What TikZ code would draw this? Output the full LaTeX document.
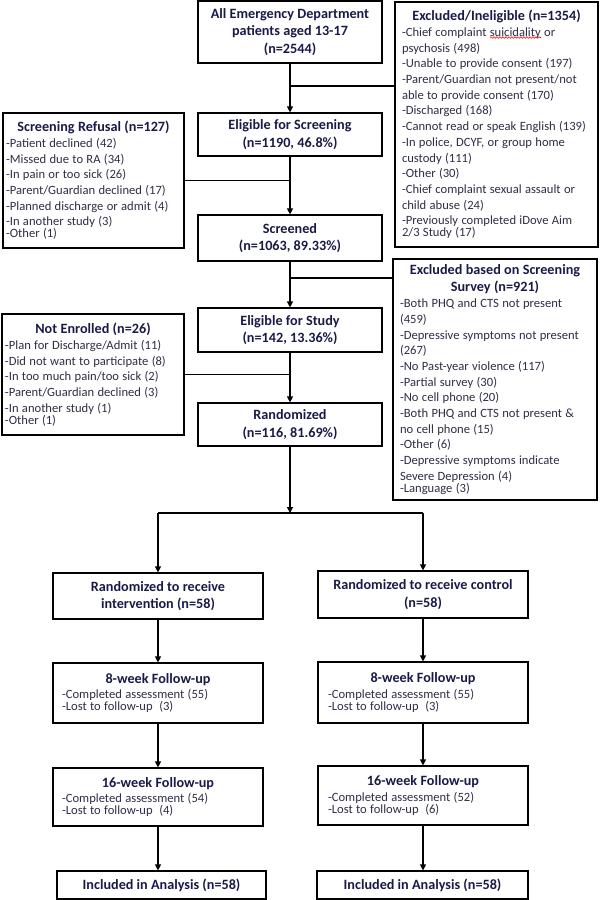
\documentclass[tikz,border=0pt]{standalone}
\usepackage{fontspec}
\setmainfont{Carlito}
\usetikzlibrary{arrows.meta,decorations.pathmorphing}
\definecolor{hd}{HTML}{1A1A4A}
\definecolor{bd}{HTML}{2E2E48}
\newcommand\hf{\fontsize{14.2}{17.5}\selectfont\bfseries}
\newcommand\bdf{\fontsize{12.6}{15.7}\selectfont\color{bd}}
\tikzset{
  box/.style={draw=black, line width=1.2pt, inner sep=0pt, fill=white, text=hd},
  mainbox/.style={box, align=center, font=\hf},
  listbox/.style={box, align=left},
  ln/.style={line width=1.2pt},
  arr/.style={line width=1.2pt, -{Triangle[length=6pt,width=6pt]}}
}
\begin{document}
\begin{tikzpicture}[x=1pt,y=-1pt]
\fill[white] (0,0) rectangle (600,900);
\useasboundingbox (0,0) rectangle (600,900);

% main column
\node[mainbox, minimum width=184pt, minimum height=62pt] (ed) at (290,32)
  {All Emergency Department\\patients aged 13-17\\(n=2544)};
\node[mainbox, minimum width=184pt, minimum height=43pt] (elig) at (290,134.5)
  {Eligible for Screening\\(n=1190, 46.8\%)};
\node[mainbox, minimum width=184pt, minimum height=46pt] (screened) at (290,238)
  {Screened\\(n=1063, 89.33\%)};
\node[mainbox, minimum width=184pt, minimum height=44pt] (eligstudy) at (290,330)
  {Eligible for Study\\(n=142, 13.36\%)};
\node[mainbox, minimum width=184pt, minimum height=43pt] (rand) at (290,424.5)
  {Randomized\\(n=116, 81.69\%)};

% exclusion boxes
\node[listbox, minimum width=203pt, minimum height=245pt, text width=189pt] (excl1) at (496.5,124.5)
  {{\centering\hf Excluded/Ineligible (n=1354)\par}\bdf
  -Chief complaint suicidality or\\
  psychosis (498)\\
  -Unable to provide consent (197)\\
  -Parent/Guardian not present/not\\
  able to provide consent (170)\\
  -Discharged (168)\\
  -Cannot read or speak English (139)\\
  -In police, DCYF, or group home\\
  custody (111)\\
  -Other (30)\\
  -Chief complaint sexual assault or\\
  child abuse (24)\\
  -Previously completed iDove Aim\\
  2/3 Study (17)};

\node[listbox, minimum width=181pt, minimum height=135pt, text width=175pt] (refuse) at (93.5,180.5)
  {{\centering\hf Screening Refusal (n=127)\par}\bdf
  -Patient declined (42)\\
  -Missed due to RA (34)\\
  -In pain or too sick (26)\\
  -Parent/Guardian declined (17)\\
  -Planned discharge or admit (4)\\
  -In another study (3)\\
  -Other (1)};

\node[listbox, minimum width=204pt, minimum height=241pt, text width=190pt] (excl2) at (495,379.5)
  {{\centering\hf Excluded based on Screening\\Survey (n=921)\par}\bdf
  -Both PHQ and CTS not present\\
  (459)\\
  -Depressive symptoms not present\\
  (267)\\
  -No Past-year violence (117)\\
  -Partial survey (30)\\
  -No cell phone (20)\\
  -Both PHQ and CTS not present \&\\
  no cell phone (15)\\
  -Other (6)\\
  -Depressive symptoms indicate\\
  Severe Depression (4)\\
  -Language (3)};

\node[listbox, minimum width=182pt, minimum height=121pt, text width=176pt] (notenr) at (93,374.5)
  {{\centering\hf Not Enrolled (n=26)\par}\bdf
  -Plan for Discharge/Admit (11)\\
  -Did not want to participate (8)\\
  -In too much pain/too sick (2)\\
  -Parent/Guardian declined (3)\\
  -In another study (1)\\
  -Other (1)};

% arms
\node[mainbox, minimum width=210pt, minimum height=46pt] (intv) at (158,596)
  {Randomized to receive\\intervention (n=58)};
\node[mainbox, minimum width=210pt, minimum height=47pt] (ctrl) at (423,594.5)
  {Randomized to receive control\\(n=58)};

\node[listbox, minimum width=210pt, minimum height=60pt, text width=192pt] (fu8L) at (158,693)
  {{\centering\hf 8-week Follow-up\par}\bdf
  -Completed assessment (55)\\
  -Lost to follow-up\ \ (3)};
\node[listbox, minimum width=210pt, minimum height=61pt, text width=190pt] (fu8R) at (423,692.5)
  {{\centering\hf 8-week Follow-up\par}\bdf
  -Completed assessment (55)\\
  -Lost to follow-up\ \ (3)};

\node[listbox, minimum width=210pt, minimum height=58pt, text width=192pt] (fu16L) at (158,797)
  {{\centering\hf 16-week Follow-up\par}\bdf
  -Completed assessment (54)\\
  -Lost to follow-up\ \ (4)};
\node[listbox, minimum width=210pt, minimum height=59pt, text width=190pt] (fu16R) at (423,795.5)
  {{\centering\hf 16-week Follow-up\par}\bdf
  -Completed assessment (52)\\
  -Lost to follow-up\ \ (6)};

\node[mainbox, minimum width=209pt, minimum height=28pt] (incL) at (161.5,885)
  {Included in Analysis (n=58)};
\node[mainbox, minimum width=211pt, minimum height=28pt] (incR) at (422.5,885)
  {Included in Analysis (n=58)};

% spell-check squiggle under "suicidality"
\draw[red, line width=0.6pt, decorate, decoration={snake, segment length=3pt, amplitude=0.8pt}]
  (490,37.5) -- (541,37.5);

% connectors
\coordinate (j1) at (290,86);
\coordinate (j3) at (290,278);
\coordinate (split) at (290,513);
\draw[arr] (ed) -- (elig);
\draw[ln] (j1) -- (j1 -| excl1.west);
\draw[ln] (refuse.east) -- (refuse.east -| elig.south);
\draw[arr] (elig) -- (screened);
\draw[ln] (j3) -- (j3 -| excl2.west);
\draw[arr] (screened) -- (eligstudy);
\draw[ln] (notenr.east) -- (notenr.east -| eligstudy.south);
\draw[arr] (eligstudy) -- (rand);
\draw[arr] (rand) -- (split);
\draw[ln] (split -| intv.north) -- (split -| ctrl.north);
\draw[arr] (split -| intv.north) -- (intv.north);
\draw[arr] (split -| ctrl.north) -- (ctrl.north);
\draw[arr] (intv) -- (fu8L);
\draw[arr] (fu8L) -- (fu16L);
\draw[arr] (fu16L.south) -- (fu16L.south |- incL.north);
\draw[arr] (ctrl) -- (fu8R);
\draw[arr] (fu8R) -- (fu16R);
\draw[arr] (fu16R.south) -- (fu16R.south |- incR.north);
\end{tikzpicture}
\end{document}
